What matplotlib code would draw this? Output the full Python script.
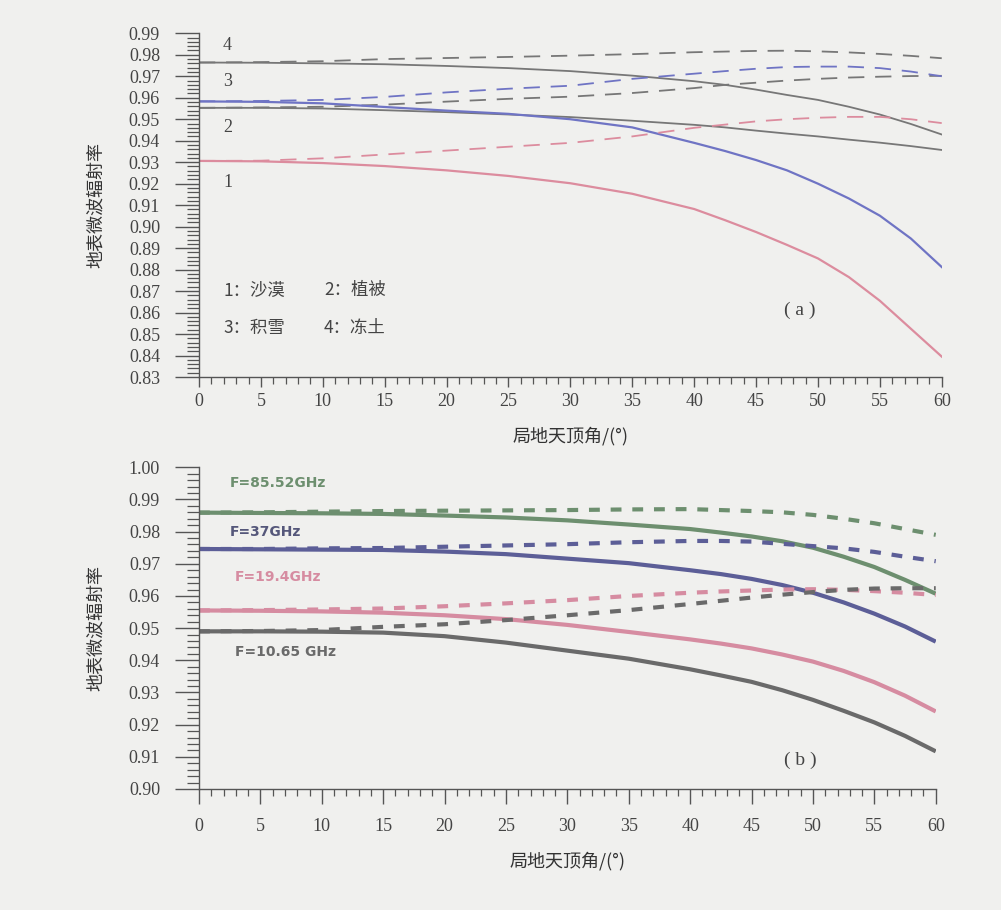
import matplotlib
matplotlib.use("Agg")
import matplotlib.pyplot as plt
from matplotlib.ticker import MultipleLocator

# ---------------- data ----------------
angles = [0, 5, 10, 15, 20, 25, 30, 35, 40, 42.5, 45, 47.5, 50, 52.5, 55, 57.5, 60]

# panel (a)  -- solid / dashed pairs
a_desert_solid  = [0.9306, 0.9304, 0.9296, 0.9282, 0.9262, 0.9236, 0.9202, 0.9153, 0.9082, 0.9030, 0.8975, 0.8915, 0.8852, 0.8765, 0.8655, 0.8525, 0.8395]
a_desert_dash   = [0.9306, 0.9307, 0.9318, 0.9336, 0.9354, 0.9372, 0.9390, 0.9420, 0.9460, 0.9475, 0.9490, 0.9500, 0.9507, 0.9511, 0.9511, 0.9500, 0.9482]
a_veg_solid     = [0.9553, 0.9553, 0.9550, 0.9542, 0.9533, 0.9522, 0.9510, 0.9493, 0.9474, 0.9462, 0.9447, 0.9433, 0.9420, 0.9405, 0.9391, 0.9375, 0.9357]
a_veg_dash      = [0.9553, 0.9555, 0.9558, 0.9568, 0.9582, 0.9595, 0.9605, 0.9622, 0.9645, 0.9660, 0.9670, 0.9680, 0.9688, 0.9694, 0.9698, 0.9701, 0.9702]
a_snow_solid    = [0.9583, 0.9581, 0.9574, 0.9557, 0.9540, 0.9525, 0.9500, 0.9462, 0.9390, 0.9352, 0.9310, 0.9262, 0.9200, 0.9131, 0.9051, 0.8945, 0.8812]
a_snow_dash     = [0.9583, 0.9585, 0.9590, 0.9604, 0.9625, 0.9642, 0.9656, 0.9688, 0.9712, 0.9724, 0.9735, 0.9743, 0.9745, 0.9745, 0.9738, 0.9722, 0.9700]
a_frozen_solid  = [0.9764, 0.9763, 0.9760, 0.9756, 0.9748, 0.9738, 0.9724, 0.9703, 0.9677, 0.9660, 0.9638, 0.9613, 0.9590, 0.9558, 0.9522, 0.9478, 0.9429]
a_frozen_dash   = [0.9764, 0.9766, 0.9770, 0.9780, 0.9785, 0.9790, 0.9796, 0.9803, 0.9812, 0.9815, 0.9818, 0.9819, 0.9816, 0.9811, 0.9804, 0.9795, 0.9784]

# panel (b)
b_f85_solid = [0.9859, 0.9858, 0.9857, 0.9855, 0.9850, 0.9844, 0.9835, 0.9822, 0.9808, 0.9797, 0.9785, 0.9770, 0.9750, 0.9722, 0.9690, 0.9650, 0.9607]
b_f85_dash  = [0.9859, 0.9860, 0.9862, 0.9864, 0.9865, 0.9866, 0.9867, 0.9869, 0.9870, 0.9867, 0.9864, 0.9860, 0.9852, 0.9840, 0.9826, 0.9808, 0.9790]
b_f37_solid = [0.9746, 0.9745, 0.9744, 0.9743, 0.9738, 0.9730, 0.9716, 0.9702, 0.9680, 0.9668, 0.9653, 0.9634, 0.9610, 0.9580, 0.9545, 0.9505, 0.9458]
b_f37_dash  = [0.9746, 0.9746, 0.9748, 0.9749, 0.9753, 0.9757, 0.9761, 0.9767, 0.9771, 0.9771, 0.9769, 0.9762, 0.9755, 0.9748, 0.9737, 0.9722, 0.9708]
b_f19_solid = [0.9555, 0.9554, 0.9552, 0.9548, 0.9540, 0.9528, 0.9510, 0.9488, 0.9465, 0.9452, 0.9437, 0.9418, 0.9396, 0.9367, 0.9332, 0.9290, 0.9241]
b_f19_dash  = [0.9555, 0.9556, 0.9558, 0.9561, 0.9568, 0.9577, 0.9587, 0.9600, 0.9610, 0.9614, 0.9617, 0.9620, 0.9621, 0.9619, 0.9615, 0.9610, 0.9603]
b_f10_solid = [0.9490, 0.9490, 0.9489, 0.9486, 0.9475, 0.9455, 0.9430, 0.9405, 0.9372, 0.9353, 0.9333, 0.9307, 0.9277, 0.9243, 0.9207, 0.9165, 0.9117]
b_f10_dash  = [0.9490, 0.9491, 0.9494, 0.9504, 0.9512, 0.9525, 0.9540, 0.9556, 0.9575, 0.9585, 0.9595, 0.9604, 0.9612, 0.9619, 0.9623, 0.9624, 0.9624]

a_yticks = [0.83, 0.84, 0.85, 0.86, 0.87, 0.88, 0.89, 0.90, 0.91, 0.92, 0.93,
            0.94, 0.95, 0.96, 0.97, 0.98, 0.99]
b_yticks = [0.90, 0.91, 0.92, 0.93, 0.94, 0.95, 0.96, 0.97, 0.98, 0.99, 1.00]
xticks = [0, 5, 10, 15, 20, 25, 30, 35, 40, 45, 50, 55, 60]

ylabel = "地表微波辐射率"
xlabel = "局地天顶角/(°)"
a_curve_nums = ["4", "3", "2", "1"]
a_legend = [["1：沙漠", "2：植被"], ["3：积雪", "4：冻土"]]
b_labels = ["F=85.52GHz", "F=37GHz", "F=19.4GHz", "F=10.65 GHz"]

# ---------------- style ----------------
BG = "#f0f0ee"
SERIF = ["Liberation Serif", "DejaVu Serif"]
CJK = ["Noto Sans CJK SC", "DejaVu Sans"]
plt.rcParams["font.family"] = CJK

fig = plt.figure(figsize=(10.01, 9.10), dpi=100, facecolor=BG)
axA = fig.add_axes([0.1988, 0.5857, 0.7420, 0.3777])
axB = fig.add_axes([0.1988, 0.1330, 0.7360, 0.3535])

gray_a, blue_a, pink_a = "#777777", "#6f74c4", "#dc8c9e"
g_b, bl_b, p_b, gr_b = "#6d8f6f", "#5c5e97", "#d68ca1", "#6a6a6a"

# panel (a)
lw = 1.3
axA.plot(angles, a_frozen_solid, color=gray_a, lw=lw)
axA.plot(angles, a_frozen_dash, color=gray_a, lw=lw, dashes=(9, 6))
axA.plot(angles, a_veg_solid, color=gray_a, lw=lw)
axA.plot(angles, a_veg_dash, color=gray_a, lw=lw, dashes=(9, 6))
axA.plot(angles, a_snow_solid, color=blue_a, lw=1.6)
axA.plot(angles, a_snow_dash, color=blue_a, lw=lw, dashes=(9, 6))
axA.plot(angles, a_desert_solid, color=pink_a, lw=1.6)
axA.plot(angles, a_desert_dash, color=pink_a, lw=lw, dashes=(9, 6))

# panel (b)
lwb = 3.0
for s, d, c in [(b_f85_solid, b_f85_dash, g_b), (b_f37_solid, b_f37_dash, bl_b),
                (b_f19_solid, b_f19_dash, p_b), (b_f10_solid, b_f10_dash, gr_b)]:
    axB.plot(angles, s, color=c, lw=lwb, solid_capstyle="butt")
    axB.plot(angles, d, color=c, lw=lwb, dashes=(2.6, 2.6))

for ax, yt, ylim, xmax_tick in [(axA, a_yticks, (0.83, 0.99), 10),
                                (axB, b_yticks, (0.90, 1.00), 15)]:
    ax.set_facecolor(BG)
    ax.set_xlim(0, 60)
    ax.set_ylim(*ylim)
    ax.set_xticks(xticks)
    ax.set_yticks(yt)
    ax.set_yticklabels([f"{v:.2f}" for v in yt])
    ax.xaxis.set_minor_locator(MultipleLocator(1))
    ax.yaxis.set_minor_locator(MultipleLocator(0.002))
    for sp in ("top", "right"):
        ax.spines[sp].set_visible(False)
    for sp in ("left", "bottom"):
        ax.spines[sp].set_color("#555555")
        ax.spines[sp].set_linewidth(1.0)
    ax.tick_params(axis="y", which="major", direction="out", length=17, width=1.0,
                   color="#555555", labelsize=13, labelcolor="#444444", pad=11)
    ax.tick_params(axis="y", which="minor", direction="out", length=9, width=0.9,
                   color="#555555")
    ax.tick_params(axis="x", which="major", direction="out", length=xmax_tick * 0.72, width=1.0,
                   color="#555555", labelsize=13, labelcolor="#444444", pad=4)
    ax.tick_params(axis="x", which="minor", direction="out", length=5, width=0.9,
                   color="#555555")
    for lab in ax.get_xticklabels() + ax.get_yticklabels():
        lab.set_family(SERIF)
    ax.set_ylabel(ylabel, fontsize=13, color="#333333", labelpad=17, family=CJK)
    ax.set_xlabel(xlabel, fontsize=13, color="#333333", labelpad=12, family=CJK)

axA.tick_params(axis="x", which="major", pad=4)
axB.tick_params(axis="x", which="major", pad=10)

# annotations panel (a)
for txt, yv in zip(a_curve_nums, [0.9845, 0.9675, 0.9462, 0.9206]):
    axA.text(2.3, yv, txt, fontsize=13, color="#444444", family=SERIF, ha="center", va="center")
for row, yv in zip(a_legend, [0.8704, 0.8526]):
    axA.text(2.0, yv, row[0], fontsize=12.5, color="#444444", ha="left", va="center", family=CJK)
    axA.text(10.1, yv, row[1], fontsize=12.5, color="#444444", ha="left", va="center", family=CJK)
axA.text(48.5, 0.8610, "( a )", fontsize=14, color="#444444", family=SERIF, ha="center", va="center")

# annotations panel (b)
b_label_pos = [0.9950, 0.9800, 0.9660, 0.9425]
b_label_col = [g_b, "#55577a", p_b, gr_b]
b_label_x = [2.5, 2.5, 2.9, 2.9]
for txt, yv, c, xv in zip(b_labels, b_label_pos, b_label_col, b_label_x):
    axB.text(xv, yv, txt, fontsize=10, color=c, ha="left", va="center",
             family=["DejaVu Sans"], fontweight="bold")
axB.text(49.0, 0.9090, "( b )", fontsize=14, color="#444444", family=SERIF, ha="center", va="center")

fig.savefig("out.png", dpi=100, facecolor=BG)
